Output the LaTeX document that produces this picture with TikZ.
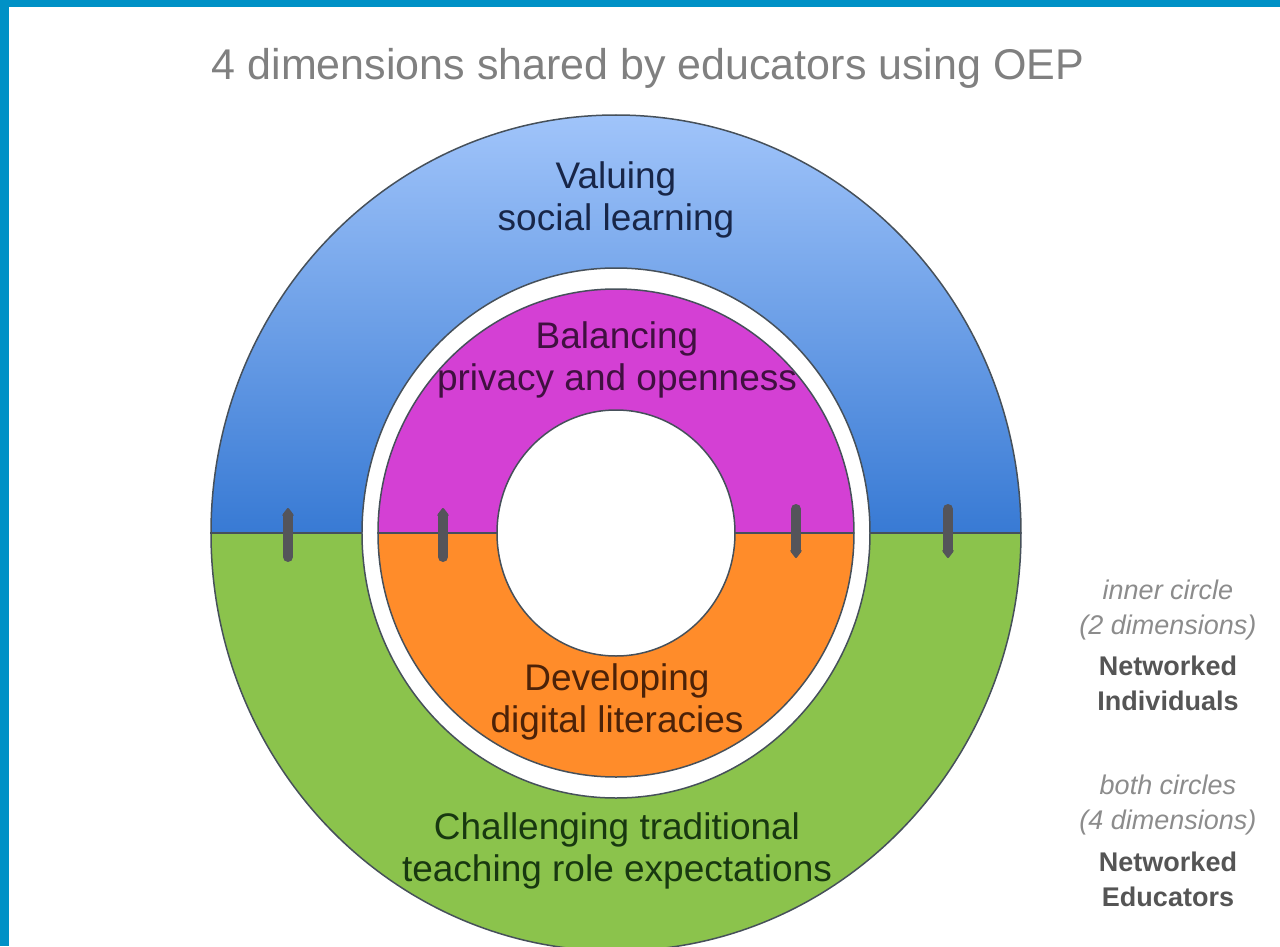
\documentclass[tikz,border=0pt]{standalone}
\usepackage{fontspec}
\setmainfont{Liberation Sans}
\usetikzlibrary{arrows.meta}
\definecolor{framecol}{RGB}{0,145,198}
\definecolor{valtop}{RGB}{160,196,250}
\definecolor{valbot}{RGB}{56,122,212}
\definecolor{chalcol}{RGB}{139,195,76}
\definecolor{balcol}{RGB}{212,64,212}
\definecolor{devcol}{RGB}{255,140,42}
\definecolor{rimcol}{RGB}{70,80,90}
\definecolor{arrowcol}{RGB}{84,84,90}
\definecolor{titlecol}{RGB}{128,128,128}
\definecolor{valtext}{RGB}{24,38,72}
\definecolor{baltext}{RGB}{64,16,64}
\definecolor{devtext}{RGB}{76,34,8}
\definecolor{chaltext}{RGB}{24,56,16}
\definecolor{notegrey}{RGB}{140,140,140}
\definecolor{notedark}{RGB}{85,85,85}

\begin{document}
\begin{tikzpicture}[x=1pt,y=1pt,
  dimtext/.style={align=center,font=\fontsize{37}{42}\selectfont},
  sidenote/.style={align=center,font=\fontsize{27}{35}\selectfont\itshape,text=notegrey},
  sidebold/.style={align=center,font=\fontsize{27}{35}\selectfont\bfseries,text=notedark},
  rim/.style={draw=rimcol,line width=1.5pt},
  pull/.style={draw=arrowcol,line width=10pt,line cap=round,-{Triangle[length=9pt,width=13pt,round]}}]
	\useasboundingbox (-616,-413) rectangle (664,533);
	\fill[white] (-616,-413) rectangle (664,533);
	\fill[framecol] (-616,-413) rectangle (-607,533);
	\fill[framecol] (-616,526) rectangle (664,533);
	% outer circle
	\shade[top color=valtop,bottom color=valbot] (405,0) arc[start angle=0,end angle=180,x radius=405,y radius=418] -- cycle;
	\fill[chalcol] (-405,0) arc[start angle=180,end angle=360,x radius=405,y radius=418] -- cycle;
	\draw[rim] (0,0) ellipse[x radius=405,y radius=418];
	\draw[rim] (-405,0) -- (405,0);
	\filldraw[fill=white,rim] (0,0) ellipse[x radius=254,y radius=265];
	% inner circle
	\fill[balcol] (238,0) arc[start angle=0,end angle=180,x radius=238,y radius=244] -- cycle;
	\fill[devcol] (-238,0) arc[start angle=180,end angle=360,x radius=238,y radius=244] -- cycle;
	\draw[rim] (0,0) ellipse[x radius=238,y radius=244];
	\draw[rim] (-238,0) -- (238,0);
	\filldraw[fill=white,rim] (0,0) ellipse[x radius=119,y radius=123];
	% arrows across the split
	\coordinate (ol1) at (-328,-24);
	\coordinate (ol2) at (-328,25);
	\coordinate (il1) at (-173,-24);
	\coordinate (il2) at (-173,25);
	\coordinate (ir1) at (180,24);
	\coordinate (ir2) at (180,-25);
	\coordinate (or1) at (332,24);
	\coordinate (or2) at (332,-25);
	\draw[pull] (ol1) -- (ol2);
	\draw[pull] (il1) -- (il2);
	\draw[pull] (ir1) -- (ir2);
	\draw[pull] (or1) -- (or2);
	% labels
	\node[font=\fontsize{43}{50}\selectfont,text=titlecol] (title) at (32,465) {4 dimensions shared by educators using OEP};
	\node[dimtext,text=valtext] (valuing) at (0,333) {Valuing\\social learning};
	\node[dimtext,text=baltext] (balancing) at (1,173) {Balancing\\privacy and openness};
	\node[dimtext,text=devtext] (developing) at (1,-169) {Developing\\digital literacies};
	\node[dimtext,text=chaltext] (challenging) at (1,-318) {Challenging traditional\\teaching role expectations};
	\node[sidenote] (innernote) at (552,-77) {inner circle\\(2 dimensions)};
	\node[sidebold] (innergroup) at (552,-150) {Networked\\Individuals};
	\node[sidenote] (bothnote) at (552,-272) {both circles\\(4 dimensions)};
	\node[sidebold] (bothgroup) at (552,-346) {Networked\\Educators};
\end{tikzpicture}
\end{document}
